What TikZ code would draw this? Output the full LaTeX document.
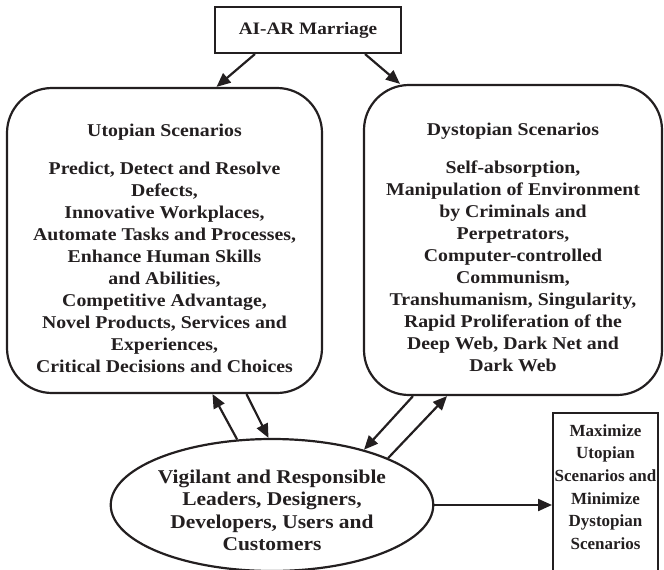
\documentclass[tikz,border=0pt]{standalone}
\usepackage{fontspec}
\setmainfont{Liberation Serif}[FakeStretch=1.1]
\newfontfamily\goalfont{Liberation Serif}
\usepackage{tikz}
\usetikzlibrary{arrows.meta, positioning, shapes.geometric}
\definecolor{ink}{RGB}{35,31,32}

\begin{document}
\begin{tikzpicture}[x=1pt, y=-1pt,
    every node/.style={font=\fontsize{18}{22}\selectfont\bfseries, text=ink},
    hub/.style={rectangle, draw=ink, line width=2pt,
                minimum width=186pt, minimum height=46pt,
                font=\fontsize{17.5}{22}\selectfont\bfseries},
    scen/.style={rectangle, draw=ink, line width=2.2pt,
                 rounded corners=45pt, align=center},
    crowd/.style={ellipse, draw=ink, line width=2.2pt, inner sep=0pt,
                  minimum width=308pt, minimum height=132pt, align=center,
                  font=\fontsize{19.5}{22.5}\selectfont\bfseries},
    goalbox/.style={rectangle, draw=ink, line width=2pt,
                    minimum width=105pt, minimum height=172pt},
    arr/.style={-{Triangle[length=14pt, width=12pt]}, line width=2.2pt, ink},
]

\clip (0,0) rectangle (664,570);

\node[hub] (marriage) at (308,30) {AI-AR Marriage};

\node[scen, minimum width=315pt, minimum height=305pt] (utopia) at (164.5,240.5)
    {\rule{0pt}{28pt}Utopian Scenarios\\[16pt]
     Predict, Detect and Resolve\\Defects,\\Innovative Workplaces,\\
     Automate Tasks and Processes,\\Enhance Human Skills\\and Abilities,\\
     Competitive Advantage,\\Novel Products, Services and\\Experiences,\\
     Critical Decisions and Choices};

\node[scen, minimum width=298pt, minimum height=310pt] (dystopia) at (513,240)
    {\rule{0pt}{28pt}Dystopian Scenarios\\[16pt]
     Self-absorption,\\Manipulation of Environment\\by Criminals and\\
     Perpetrators,\\Computer-controlled\\Communism,\\
     Transhumanism, Singularity,\\Rapid Proliferation of the\\
     Deep Web, Dark Net and\\Dark Web};

\node[crowd] (vigil) at (272,505)
    {\rule{0pt}{24pt}Vigilant and Responsible\\Leaders, Designers,\\
     Developers, Users and\\Customers};

\node[goalbox] (goalframe) at (605.5,499) {};
\node[align=center, font=\goalfont\fontsize{17}{22.6}\selectfont\bfseries]
    (goal) at (605.5,487)
    {Maximize\\Utopian\\Scenarios and\\Minimize\\Dystopian\\Scenarios};

\draw[arr] ([xshift=-53pt]marriage.south) -- ([xshift=52pt]utopia.north);
\draw[arr] ([xshift=57pt]marriage.south) -- ([xshift=-113pt]dystopia.north);
\draw[arr] (vigil.118) -- ([xshift=48pt]utopia.south);
\draw[arr] ([xshift=82pt]utopia.south) -- (vigil.93);
\draw[arr] ([xshift=-100pt]dystopia.south) -- (vigil.31);
\draw[arr] (vigil.22) -- ([xshift=-66pt]dystopia.south);
\draw[arr] (vigil.east) -- (vigil.east -| goalframe.west);

\end{tikzpicture}
\end{document}
